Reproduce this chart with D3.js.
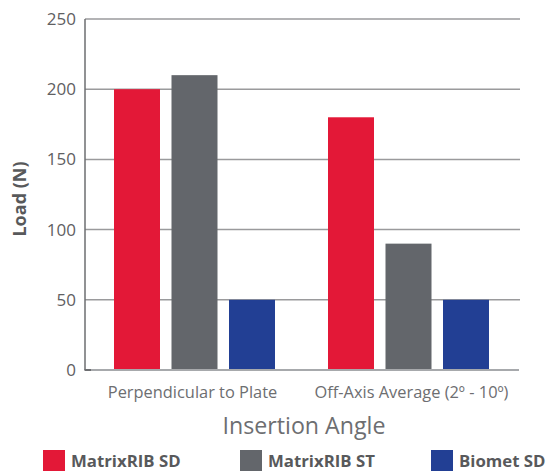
<!DOCTYPE html>
<html><head><meta charset="utf-8">
<script src="https://cdn.jsdelivr.net/npm/d3@7"></script>
<style>body{margin:0;background:#fff}svg{display:block}</style>
</head><body>
<svg id="c" width="548" height="471"></svg>
<script>
const categories = ["Perpendicular to Plate", "Off-Axis Average (2º - 10º)"];
const seriesNames = ["MatrixRIB SD", "MatrixRIB ST", "Biomet SD"];
const matrixRibSD = [200, 180];
const matrixRibST = [210, 90];
const biometSD = [50, 50];
const yTicks = [0, 50, 100, 150, 200, 250];
const colors = ["#E31837", "#63666B", "#223F94"];

const series = [matrixRibSD, matrixRibST, biometSD];
const svg = d3.select("#c");
const font = "'Open Sans', sans-serif";

const y = d3.scaleLinear().domain([0, 250]).range([370, 19]);
const x0 = d3.scaleBand().domain(categories).range([87.5, 515.5]).paddingInner(0.2477).paddingOuter(0.2477/2);
const x1 = d3.scaleBand().domain(seriesNames).range([0, x0.bandwidth()]).paddingInner(0.2).paddingOuter(0);

// gridlines
svg.append("g").selectAll("line").data(yTicks.filter(d => d > 0)).join("line")
  .attr("x1", 85).attr("x2", 520).attr("y1", d => y(d)).attr("y2", d => y(d))
  .attr("stroke", "#9a9a9c").attr("stroke-width", 1.5);

// bars
categories.forEach((c, ci) => {
  svg.append("g").selectAll("rect").data(seriesNames).join("rect")
    .attr("x", (s) => x0(c) + x1(s))
    .attr("width", x1.bandwidth())
    .attr("y", (s, si) => y(series[si][ci]))
    .attr("height", (s, si) => y(0) - y(series[si][ci]))
    .attr("fill", (s, si) => colors[si]);
});

// baseline
svg.append("line").attr("x1", 90).attr("x2", 519).attr("y1", 370).attr("y2", 370)
  .attr("stroke", "#a7a9ac").attr("stroke-width", 2);
// y axis line
svg.append("line").attr("x1", 85).attr("x2", 85).attr("y1", 19).attr("y2", 370)
  .attr("stroke", "#6d6e71").attr("stroke-width", 1.5);
svg.append("line").attr("x1", 84.5).attr("x2", 91).attr("y1", 370).attr("y2", 370)
  .attr("stroke", "#6d6e71").attr("stroke-width", 2);

// y tick labels
svg.append("g").selectAll("text").data(yTicks).join("text")
  .attr("x", 76).attr("y", d => y(d)).attr("dy", "0.35em")
  .attr("text-anchor", "end").attr("font-family", font).attr("font-size", 17)
  .attr("fill", "#5f6062").text(d => d);

// y label
svg.append("text").attr("transform", "translate(26,199) rotate(-90)")
  .attr("text-anchor", "middle").attr("font-family", font).attr("font-size", 18)
  .attr("font-weight", "bold").attr("fill", "#58595b").text("Load (N)");

// x category labels
svg.append("g").selectAll("text").data(categories).join("text")
  .attr("x", (d, i) => x0(d) + x0.bandwidth() / 2 + (i ? 3 : -2)).attr("y", 398)
  .attr("text-anchor", "middle").attr("font-family", font).attr("font-size", 16.4)
  .attr("fill", "#6d6e71").text(d => d);

// x title
svg.append("text").attr("x", 304).attr("y", 434).attr("text-anchor", "middle")
  .attr("font-family", font).attr("font-size", 23.2).attr("fill", "#6d6e71").text("Insertion Angle");

// legend
const legX = [43, 240, 431];
const lg = svg.append("g").selectAll("g").data(seriesNames).join("g")
  .attr("transform", (d, i) => `translate(${legX[i]},450)`);
lg.append("rect").attr("width", 22).attr("height", 22).attr("fill", (d, i) => colors[i]);
lg.append("text").attr("x", 28).attr("y", 17).attr("font-family", font)
  .attr("font-size", 16.8).attr("font-weight", "bold").attr("fill", "#58595b").text(d => d);
</script>
</body></html>
